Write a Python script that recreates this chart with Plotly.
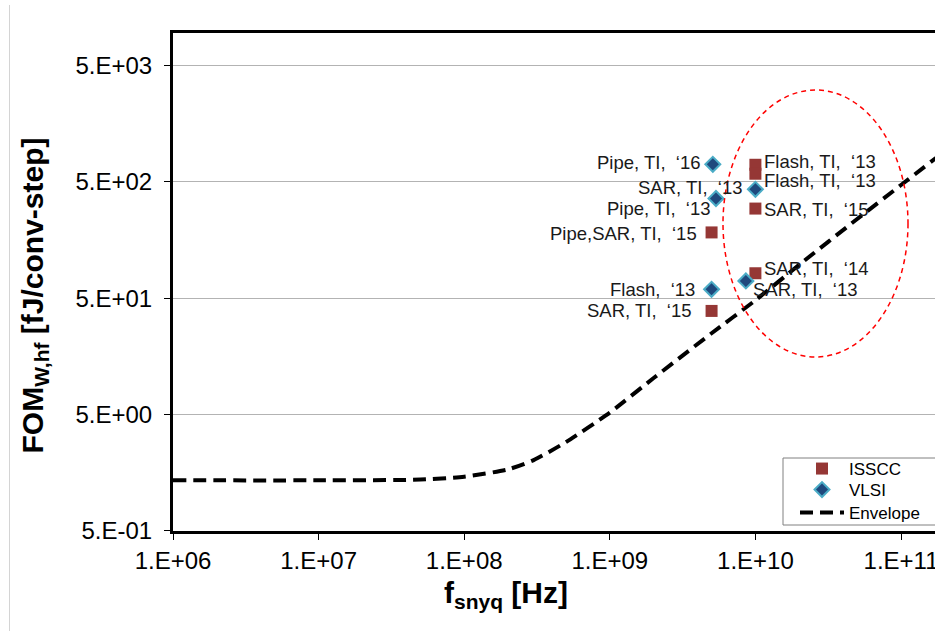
import numpy as np
import plotly.graph_objects as go

# ---------------- data ----------------
isscc_x = [1e10, 1e10, 1e10, 5e9, 1e10, 5e9]
isscc_y = [702, 588, 295, 184, 82, 38.9]
isscc_labels = ["Flash, TI,  \u201813", "Flash, TI,  \u201813", "SAR, TI,  \u201815",
                "Pipe,SAR, TI,  \u201815", "SAR, TI,  \u201814", "SAR, TI,  \u201815"]

vlsi_x = [5.1e9, 1e10, 5.36e9, 8.6e9, 5e9]
vlsi_y = [709, 432, 360, 70.4, 59.7]
vlsi_labels = ["Pipe, TI,  \u201816", "SAR, TI,  \u201813", "Pipe, TI,  \u201813",
               "SAR, TI,  \u201813", "Flash,  \u201813"]

env_x = [1e6, 1e7, 5e7, 1e8, 2e8, 3e8, 5e8, 1e9, 2e9, 5e9, 1e10, 2e10, 5e10, 1e11, 2e11]
env_y = [1.36, 1.36, 1.38, 1.46, 1.69, 2.03, 2.9, 5.2, 10.3, 25, 48, 97, 240, 470, 920]

x_tickvals = [1e6, 1e7, 1e8, 1e9, 1e10, 1e11]
x_ticktext = ["1.E+06", "1.E+07", "1.E+08", "1.E+09", "1.E+10", "1.E+11"]
y_tickvals = [0.5, 5, 50, 500, 5000]
y_ticktext = ["5.E-01", "5.E+00", "5.E+01", "5.E+02", "5.E+03"]

x_title = "<b>f<sub>snyq</sub> [Hz]</b>"
y_title = "<b>FOM<sub>W,hf</sub> [fJ/conv-step]</b>"

# ------------- label placement (pixel offsets) -------------
isscc_lab_pos = [("left", 7, 3), ("left", 7, -7), ("left", 7, -1),
                 ("right", -13, -1), ("left", 7, 5), ("right", -18, 0)]
vlsi_lab_pos = [("right", -10, 2), ("right", -10, 2), ("right", -3, -10),
                ("left", 5, -9), ("right", -15, 0)]

FONT = "Liberation Sans, Arial, sans-serif"

W, H = 935, 631
L, T, R_, B = 173, 33, 0, 100
pw, ph = W - L - R_, H - T - B


def px2paper_x(px):
    return (px - L) / pw


def px2paper_y(py):
    return (H - B - py) / ph


fig = go.Figure()
fig.add_trace(go.Scatter(
    x=isscc_x, y=isscc_y, mode="markers", name="ISSCC", legend="legend",
    marker=dict(symbol="square", size=12, color="#953735"),
))
fig.add_trace(go.Scatter(
    x=vlsi_x, y=vlsi_y, mode="markers", name="VLSI", legend="legend2",
    marker=dict(symbol="diamond", size=11.5, color="#1F497D",
                line=dict(color="#4BACC6", width=2)),
))
fig.add_trace(go.Scatter(
    x=env_x, y=env_y, mode="lines", name="Envelope", legend="legend3",
    line=dict(color="black", width=4, dash="13px,7px", shape="spline", smoothing=0.6),
))

annotations = []
for xs, ys, labs, pos in [(isscc_x, isscc_y, isscc_labels, isscc_lab_pos),
                          (vlsi_x, vlsi_y, vlsi_labels, vlsi_lab_pos)]:
    for xv, yv, t, (anc, dx, dy) in zip(xs, ys, labs, pos):
        annotations.append(dict(
            x=np.log10(xv), y=np.log10(yv), xref="x", yref="y", text=t,
            showarrow=False, xanchor=anc, yanchor="middle", xshift=dx, yshift=dy,
            font=dict(family=FONT, size=18.5, color="#1a1a1a"),
        ))

# axis titles
annotations.append(dict(
    x=px2paper_x(505.5), y=px2paper_y(594), xref="paper", yref="paper",
    text=x_title, showarrow=False, xanchor="center", yanchor="middle",
    font=dict(family=FONT, size=30, color="black")))
annotations.append(dict(
    x=px2paper_x(34), y=px2paper_y(295.5), xref="paper", yref="paper",
    text=y_title, showarrow=False, xanchor="center", yanchor="middle", textangle=-90,
    font=dict(family=FONT, size=30, color="black")))

shapes = [
    # faint chart-area border on the far left
    dict(type="line", xref="paper", yref="paper",
         x0=px2paper_x(9.5), x1=px2paper_x(9.5), y0=px2paper_y(640), y1=px2paper_y(5),
         line=dict(color="#d4d4d4", width=1)),
    # red dashed highlight ellipse
    dict(type="circle", xref="paper", yref="paper",
         x0=px2paper_x(723), x1=px2paper_x(908), y0=px2paper_y(357), y1=px2paper_y(90),
         line=dict(color="#ff0000", width=1.5, dash="5px,4px")),
    # legend box
    dict(type="rect", xref="paper", yref="paper",
         x0=px2paper_x(783), x1=px2paper_x(945), y0=px2paper_y(525), y1=px2paper_y(458),
         line=dict(color="#808080", width=1), fillcolor="white", layer="below"),
]

leg_common = dict(xanchor="left", yanchor="middle", bgcolor="rgba(0,0,0,0)",
                  borderwidth=0, itemwidth=44,
                  font=dict(family=FONT, size=17, color="black"))

fig.update_layout(
    width=W, height=H,
    margin=dict(l=L, r=R_, t=T, b=B, autoexpand=False),
    paper_bgcolor="white", plot_bgcolor="white",
    font=dict(family=FONT, color="black"),
    showlegend=True,
    legend=dict(x=px2paper_x(795), y=px2paper_y(469), **leg_common),
    legend2=dict(x=px2paper_x(795), y=px2paper_y(490), **leg_common),
    legend3=dict(x=px2paper_x(795), y=px2paper_y(513), **leg_common),
    annotations=annotations,
    shapes=shapes,
    xaxis=dict(
        type="log", range=[6, 6 + pw / 145.6], autorange=False,
        tickvals=x_tickvals, ticktext=x_ticktext,
        ticks="outside", ticklen=6, tickwidth=1, tickcolor="black",
        ticklabeloverflow="allow",
        showline=True, linewidth=3, linecolor="black", mirror=True,
        showgrid=False, zeroline=False,
        tickfont=dict(family=FONT, size=24, color="black"),
    ),
    yaxis=dict(
        type="log", range=[np.log10(0.5) - 0.001, np.log10(0.5) + ph / 116.35], autorange=False,
        tickvals=y_tickvals, ticktext=y_ticktext,
        ticks="outside", ticklen=6, tickwidth=1, tickcolor="black",
        ticklabelstandoff=7,
        showline=True, linewidth=3, linecolor="black", mirror=False,
        showgrid=True, gridcolor="#b3b3b3", gridwidth=1, zeroline=False,
        tickfont=dict(family=FONT, size=24, color="black"),
    ),
)

fig.write_html(
    "out.html",
    config={"displayModeBar": False},
    post_script="document.body.style.margin='0px';document.body.style.overflow='hidden';",
)
